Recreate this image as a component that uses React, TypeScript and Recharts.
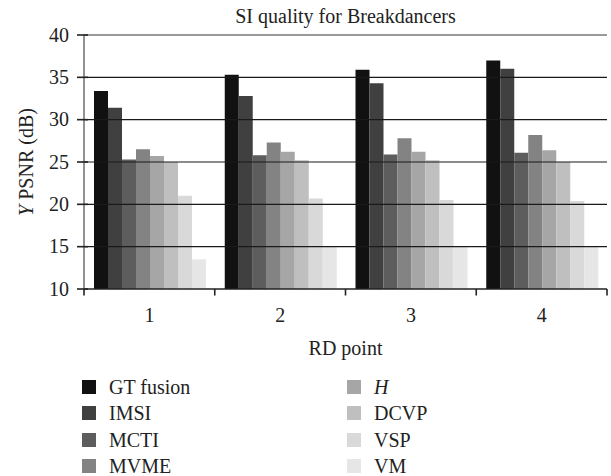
import React from "react";
import { BarChart, Bar, XAxis, YAxis, ReferenceLine } from "recharts";

const categories = ["1", "2", "3", "4"];
const seriesNames = ["GT fusion", "IMSI", "MCTI", "MVME", "H", "DCVP", "VSP", "VM"];
const seriesColors = ["#111111", "#404040", "#5d5d5d", "#838383", "#a6a6a6", "#bfbfbf", "#d9d9d9", "#e6e6e6"];
const gtFusion = [33.4, 35.3, 35.9, 37.0];
const imsi = [31.4, 32.8, 34.3, 36.0];
const mcti = [25.3, 25.8, 25.9, 26.1];
const mvme = [26.5, 27.3, 27.8, 28.2];
const hMethod = [25.7, 26.2, 26.2, 26.4];
const dcvp = [25.0, 25.2, 25.2, 25.0];
const vsp = [21.0, 20.7, 20.5, 20.4];
const vm = [13.5, 15.0, 15.0, 15.0];
const yTicks = [10, 15, 20, 25, 30, 35, 40];
const gridValues = [15, 20, 25, 30, 35];
const titleText = "SI quality for Breakdancers";
const xLabelText = "RD point";

const seriesValues = [gtFusion, imsi, mcti, mvme, hMethod, dcvp, vsp, vm];
const data = categories.map((c, i) => {
  const row: Record<string, any> = { rd: c };
  seriesNames.forEach((n, s) => (row[n] = seriesValues[s][i]));
  return row;
});

const W = 611;
const H = 476;
const PLOT_LEFT = 84;
const PLOT_RIGHT = 607;
const PLOT_TOP = 35;
const PLOT_BOTTOM = 289;
const Y_AXIS_W = 60;
const X_AXIS_H = 30;
const FONT = "'Liberation Serif', 'DejaVu Serif', serif";
const FS = 20;
const TEXT = "#222";
const BAND = (PLOT_RIGHT - PLOT_LEFT) / categories.length;

const XTick = (props: any) => {
  const { x, y, payload, index } = props;
  const left = x - BAND / 2;
  return (
    <g>
      <line x1={left} x2={left} y1={y} y2={y + 6.5} stroke="#222" strokeWidth={1.6} />
      {index === categories.length - 1 && (
        <line x1={left + BAND} x2={left + BAND} y1={y} y2={y + 6.5} stroke="#222" strokeWidth={1.6} />
      )}
      <text x={x} y={y + 33} textAnchor="middle" fontFamily={FONT} fontSize={FS} fill={TEXT}>
        {payload.value}
      </text>
    </g>
  );
};

const YTick = (props: any) => {
  const { x, y, payload } = props;
  return (
    <g>
      <line x1={x - 7} x2={x + 4} y1={y} y2={y} stroke="#222" strokeWidth={1.6} />
      <text x={x - 15} y={y} dy="0.34em" textAnchor="end" fontFamily={FONT} fontSize={FS} fill={TEXT}>
        {payload.value}
      </text>
    </g>
  );
};

const YLabel = () => (
  <text
    transform={`translate(33, ${(PLOT_TOP + PLOT_BOTTOM) / 2}) rotate(-90)`}
    textAnchor="middle"
    fontFamily={FONT}
    fontSize={FS}
    fill={TEXT}
  >
    <tspan fontStyle="italic">Y</tspan>
    <tspan> PSNR (dB)</tspan>
  </text>
);

const XLabel = (props: any) => {
  const vb = props.viewBox || {};
  return (
    <text x={vb.x + vb.width / 2} y={vb.y + 66} textAnchor="middle" fontFamily={FONT} fontSize={FS} fill={TEXT}>
      {xLabelText}
    </text>
  );
};

export default function App() {
  return (
    <div style={{ position: "absolute", left: 0, top: 0, width: W, height: H, background: "#fff" }}>
      <BarChart
        width={W}
        height={H}
        data={data}
        margin={{ top: PLOT_TOP, right: W - PLOT_RIGHT, left: PLOT_LEFT - Y_AXIS_W, bottom: H - PLOT_BOTTOM - X_AXIS_H }}
        barCategoryGap={10}
        barGap={0}
      >
        <text x={(PLOT_LEFT + PLOT_RIGHT) / 2} y={23} textAnchor="middle" fontFamily={FONT} fontSize={FS} fill={TEXT}>
          {titleText}
        </text>
        {gridValues.map((v) => (
          <ReferenceLine key={v} y={v} stroke="#1a1a1a" strokeWidth={1.2} />
        ))}
        <ReferenceLine y={40} stroke="#777" strokeWidth={1.6} />
        <XAxis
          dataKey="rd"
          height={X_AXIS_H}
          tickLine={false}
          tickSize={0}
          tickMargin={0}
          axisLine={{ stroke: "#222", strokeWidth: 1.6 }}
          tick={<XTick />}
          interval={0}
          label={<XLabel />}
        />
        <YAxis
          width={Y_AXIS_W}
          domain={[10, 40]}
          ticks={yTicks}
          interval={0}
          allowDataOverflow
          tickLine={false}
          tickSize={0}
          tickMargin={0}
          axisLine={{ stroke: "#777", strokeWidth: 1.6 }}
          tick={<YTick />}
          label={<YLabel />}
        />
        <YAxis
          yAxisId="right"
          orientation="right"
          width={0}
          domain={[10, 40]}
          tick={false}
          tickLine={false}
          axisLine={{ stroke: "#777", strokeWidth: 1.6 }}
        />
        {seriesNames.map((n, i) => (
          <Bar key={n} dataKey={n} fill={seriesColors[i]} isAnimationActive={false} />
        ))}
      </BarChart>
      <div style={{ position: "absolute", left: 82, top: 375, width: 520, fontFamily: FONT, fontSize: FS, color: TEXT }}>
        {seriesNames.map((n, i) => {
          const col = Math.floor(i / 4);
          const row = i % 4;
          return (
            <div
              key={n}
              style={{ position: "absolute", left: col * 265, top: row * 26.3, display: "flex", alignItems: "center", height: 24, lineHeight: "24px" }}
            >
              <span style={{ display: "inline-block", width: 14, height: 14, background: seriesColors[i], marginRight: 13 }} />
              <span style={{ fontStyle: n === "H" ? "italic" : "normal" }}>{n}</span>
            </div>
          );
        })}
      </div>
    </div>
  );
}
